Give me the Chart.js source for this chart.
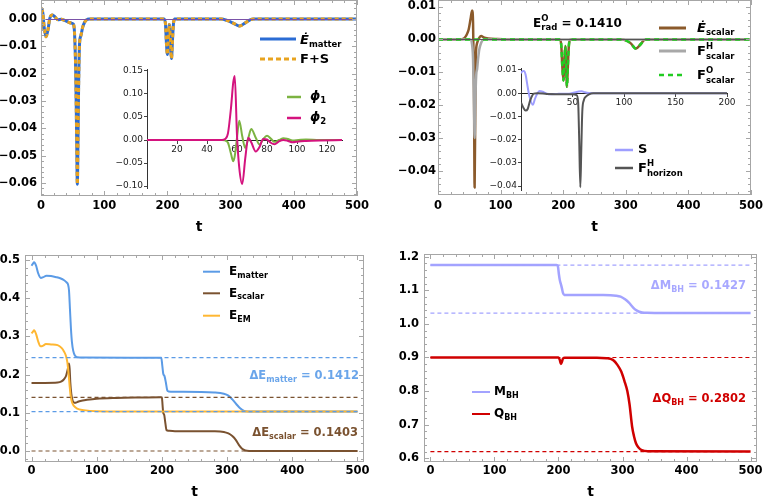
<!DOCTYPE html>
<html>
<head>
<meta charset="utf-8">
<script src="https://cdn.jsdelivr.net/npm/chart.js"></script>
<style>
  body { margin: 0; background: #fff; }
  #wrap { position: relative; width: 768px; height: 503px; overflow: hidden; background: #fff; }
  #wrap canvas { position: absolute; }
</style>
</head>
<body>
<div id="wrap">
  <canvas id="c1" width="380" height="240" style="left:0;top:0"></canvas>
  <canvas id="c2" width="384" height="240" style="left:384px;top:0"></canvas>
  <canvas id="c3" width="380" height="253" style="left:0;top:250px"></canvas>
  <canvas id="c4" width="384" height="253" style="left:384px;top:250px"></canvas>
  <canvas id="i1" width="250" height="140" style="left:100px;top:60px"></canvas>
  <canvas id="i2" width="280" height="145" style="left:460px;top:55px"></canvas>
</div>
<script>
// Panel 1: matter energy flux (F+S coincides with it)
const tFluxMatter = [0, 0.5, 1.5, 3, 5, 8, 11, 14, 18, 22, 27, 32, 38, 44, 48, 51, 53, 55, 56.5, 57.5, 58.5, 59.5, 61, 63, 66, 69, 72, 76, 195, 197, 198.5, 200, 201.5, 203, 204.5, 206.5, 208, 209.5, 211, 285, 295, 305, 314, 322, 330, 336, 500];
const eMatterDot = [-0.004, 0.001, 0.0038, 0.002, -0.003, -0.0065, -0.004, 0.0003, 0.0015, 0.0008, -0.0003, -0.0001, -0.0006, -0.0012, -0.0015, -0.0018, -0.005, -0.02, -0.045, -0.0605, -0.045, -0.025, -0.009, -0.0062, -0.003, -0.0012, -0.0003, 0, 0, -0.002, -0.009, -0.013, -0.008, -0.002, -0.006, -0.0145, -0.008, -0.002, 0, 0, -0.0006, -0.0016, -0.0026, -0.0016, -0.0004, 0, 0];
const fluxFS = eMatterDot;

// Inset of panel 1: the two scalar fields
const tPhi = [0, 50, 52, 54, 56, 57.5, 58.5, 60, 61.5, 63.5, 65.5, 67.5, 69.5, 72.5, 75, 77.5, 80, 82.5, 85, 88, 91, 94, 97, 101, 106, 115, 130];
const phi1 = [0, 0, -0.001, -0.006, -0.03, -0.046, -0.035, 0.005, 0.042, 0.008, -0.017, 0.004, 0.024, 0.005, -0.01, 0.002, 0.009, 0.003, -0.004, 0, 0.004, 0.002, -0.001, 0, 0.001, 0, 0];
const phi2 = [0, 0, 0.002, 0.015, 0.07, 0.125, 0.139, 0.01, -0.06, -0.0957, -0.04, 0.005, -0.005, -0.025, -0.015, 0.002, 0.001, -0.006, -0.009, -0.003, 0, -0.002, -0.005, -0.003, -0.002, -0.001, 0];

// Panel 2: scalar energy flux
const tFluxScalar = [0, 35, 42, 46, 49, 52, 54.5, 56, 57.5, 58.5, 59.5, 60.5, 62, 64, 66, 69, 73, 80, 95, 110, 195, 197, 198.5, 200.5, 202, 203.5, 204.5, 206, 207.5, 209, 211, 295, 300, 308, 316, 324, 331, 500];
const eScalarDot = [0, 0, 0.0004, 0.0015, 0.003, 0.0062, 0.0088, 0.005, -0.015, -0.045, -0.022, -0.005, -0.0015, -0.0003, 0.0005, 0.001, 0.0006, 0.0003, 0.0001, 0, 0, -0.002, -0.008, -0.0125, -0.006, -0.002, -0.006, -0.0144, -0.008, -0.002, 0, 0, -0.0003, -0.0012, -0.0028, -0.0014, 0, 0];
const tFluxHScalar = [0, 52, 54, 56, 57.5, 58.5, 59.5, 61, 62.5, 64, 66, 69, 73, 500];
const fHScalar = [0, 0, -0.001, -0.006, -0.02, -0.03, -0.02, -0.011, -0.009, -0.006, -0.003, -0.001, 0, 0];
const tFluxOScalar = [0, 195, 197, 198.5, 200.5, 202, 203.5, 204.5, 206, 207.5, 209, 211, 295, 300, 308, 316, 324, 331, 500];
const fOScalar = [0, 0, -0.002, -0.008, -0.0125, -0.006, -0.002, -0.006, -0.0144, -0.008, -0.002, 0, 0, -0.0003, -0.0012, -0.0028, -0.0014, 0, 0];

// Inset of panel 2
const tSource = [0, 1, 2.7, 4.5, 6, 8, 11.5, 13.5, 15.5, 18, 21, 25, 30, 35, 40, 45, 50, 53, 56, 59, 62, 66, 75, 200];
const sSource = [0.0086, 0.0093, 0.0096, 0.008, 0.004, -0.001, -0.005, -0.0025, -0.0005, 0.001, 0.0006, -0.0002, -0.0004, -0.0003, -0.0002, -0.0002, 0.0001, 0.0004, 0.0007, 0.0008, 0.0004, 0.0001, 0, 0];
const tHorizon = [0, 2, 4.4, 6.5, 9, 12.4, 16, 25, 40, 50, 54, 55.5, 56.5, 57.6, 58.5, 59.5, 61, 63, 66, 70, 200];
const fHorizon = [-0.004, -0.006, -0.0075, -0.0068, -0.003, -0.0002, 0, -0.0003, -0.0005, -0.0004, -0.0008, -0.004, -0.02, -0.0405, -0.025, -0.008, -0.003, -0.0015, -0.0005, 0, 0];

// Panel 3: energies
const tEnergyMatter = [0, 2, 4, 7, 10, 14.3, 18, 23, 30, 38, 44, 50, 54, 56, 57.5, 59, 60.5, 62, 64, 66.5, 70, 80, 150, 199, 200.5, 202, 204, 206, 208, 210, 220, 280, 295, 302, 308, 314, 320, 326, 332, 345, 500];
const eMatter = [0.485, 0.49, 0.494, 0.485, 0.466, 0.453, 0.455, 0.459, 0.458, 0.455, 0.452, 0.447, 0.441, 0.436, 0.42, 0.37, 0.32, 0.285, 0.262, 0.25, 0.2455, 0.2447, 0.2443, 0.2442, 0.225, 0.203, 0.196, 0.18, 0.16, 0.156, 0.155, 0.153, 0.15, 0.145, 0.135, 0.123, 0.112, 0.105, 0.1035, 0.1033, 0.1033];
const tEnergyScalar = [0, 20, 40, 46, 50, 53, 55, 56.5, 57.5, 58.5, 59.5, 61, 63, 65, 67, 70, 75, 85, 100, 130, 170, 198, 200, 201, 202, 203.5, 205, 207, 210, 220, 280, 295, 302, 308, 313, 318, 323, 328, 335, 345, 500];
const eScalar = [0.178, 0.178, 0.179, 0.182, 0.188, 0.197, 0.21, 0.222, 0.229, 0.215, 0.18, 0.15, 0.132, 0.127, 0.126, 0.128, 0.131, 0.134, 0.137, 0.139, 0.14, 0.1405, 0.14, 0.12, 0.1, 0.095, 0.077, 0.055, 0.053, 0.052, 0.0515, 0.05, 0.046, 0.039, 0.03, 0.016, 0.006, 0.0015, 0.0002, 0, 0];
const tEnergyEM = [0, 2, 4, 7, 10, 14, 18, 22, 30, 40, 46, 50, 53, 55, 57, 58.5, 60, 62, 65, 70, 80, 100, 130, 200, 500];
const eEM = [0.308, 0.312, 0.316, 0.306, 0.288, 0.274, 0.276, 0.28, 0.279, 0.277, 0.27, 0.26, 0.248, 0.232, 0.2, 0.17, 0.145, 0.128, 0.118, 0.111, 0.107, 0.104, 0.1035, 0.1033, 0.1033];
const tRef = [0, 500];
const refMatter = [0.2445, 0.1033];
const refScalar = [0.1403, 0];

// Panel 4: black hole mass and charge
const tMass = [0, 197, 199, 200.5, 202, 203.8, 205.5, 207, 209, 215, 270, 290, 297, 304, 310, 316, 321, 326, 331, 338, 350, 500];
const mBH = [1.175, 1.175, 1.172, 1.15, 1.131, 1.118, 1.105, 1.092, 1.086, 1.086, 1.086, 1.084, 1.081, 1.073, 1.063, 1.05, 1.041, 1.036, 1.034, 1.033, 1.0325, 1.0323];
const tCharge = [0, 200, 202, 203.8, 205.5, 207, 210, 260, 275, 285, 292, 298, 303, 307.5, 311, 315, 318, 321, 325, 330, 340, 500];
const qBH = [0.9, 0.9, 0.893, 0.881, 0.888, 0.897, 0.899, 0.899, 0.898, 0.893, 0.878, 0.858, 0.83, 0.8, 0.76, 0.694, 0.665, 0.645, 0.632, 0.624, 0.621, 0.62];
const refMass = [1.175, 1.0323];
const refCharge = [0.9, 0.62];

const FONT = '"DejaVu Sans", sans-serif';
Chart.defaults.font.family = FONT;

const fmt = (v, d) => (v < 0 ? '\u2212' : '') + Math.abs(v).toFixed(d);

// fixed axis sizes so the plot areas land where the reference has them
function fitTo(w, h) {
    return s => {
        if (w !== null) s.width = w;
        if (h !== null) s.height = h;
        s.paddingLeft = 0; s.paddingRight = 0; s.paddingTop = 0; s.paddingBottom = 0;
    };
}

function series(label, ts, vs, color, width, dash) {
    return {
        label,
        data: ts.map((t, i) => ({x: t, y: vs[i]})),
        borderColor: color,
        borderWidth: width,
        borderDash: dash || [],
        borderJoinStyle: 'round',
        pointRadius: 0,
        fill: false,
        cubicInterpolationMode: 'monotone'
    };
}

function refLine(value, color) {
    return series('', tRef, tRef.map(() => value), color, 1.2, [4, 3]);
}

// frame with inward ticks on all four sides (Mathematica style)
function makeFrame(xStep, yStep) {
    return {
        id: 'frame',
        afterDraw(chart) {
            const {ctx, chartArea: a, scales: {x, y}} = chart;
            ctx.save();
            ctx.strokeStyle = '#a6a6a6';
            ctx.lineWidth = 1;
            ctx.strokeRect(a.left + 0.5, a.top + 0.5, a.right - a.left - 1, a.bottom - a.top - 1);
            const marks = (scale, step, horiz) => {
                const minor = step / 5;
                for (let i = Math.ceil(scale.min / minor - 1e-9); i * minor <= scale.max + 1e-12; i++) {
                    const p = Math.round(scale.getPixelForValue(i * minor)) + 0.5;
                    const len = i % 5 === 0 ? 5 : 3;
                    ctx.beginPath();
                    if (horiz) {
                        ctx.moveTo(p, a.bottom); ctx.lineTo(p, a.bottom - len);
                        ctx.moveTo(p, a.top); ctx.lineTo(p, a.top + len);
                    } else {
                        ctx.moveTo(a.left, p); ctx.lineTo(a.left + len, p);
                        ctx.moveTo(a.right, p); ctx.lineTo(a.right - len, p);
                    }
                    ctx.stroke();
                }
            };
            marks(x, xStep, true);
            marks(y, yStep, false);
            ctx.restore();
        }
    };
}

// text with sub/superscripts: parts = [text, size, dy, flags] ; flags 'i' italic, 'k' keep x (stacked)
function drawRich(ctx, it) {
    const font = p => (p[3] && p[3].includes('i') ? 'italic ' : '') + 'bold ' + p[1] + 'px ' + FONT;
    let held = 0;
    const adv = it.parts.map(p => {
        ctx.font = font(p);
        const w = ctx.measureText(p[0]).width;
        if (p[3] && p[3].includes('k')) { held = w; return 0; }
        const a = Math.max(w, held);
        held = 0;
        return a;
    });
    const total = adv.reduce((s, a) => s + a, 0);
    let x = it.align === 'right' ? it.x - total : it.x;
    ctx.fillStyle = it.color || '#000';
    ctx.textBaseline = 'middle';
    ctx.textAlign = 'left';
    it.parts.forEach((p, i) => {
        ctx.font = font(p);
        ctx.fillText(p[0], x, it.y + (p[2] || 0));
        x += adv[i];
    });
}

// legends and annotations, given in page coordinates
function makeNotes(ox, oy, items) {
    return {
        id: 'notes',
        afterDraw(chart) {
            const ctx = chart.ctx;
            ctx.save();
            ctx.translate(-ox, -oy);
            items.forEach(it => {
                if (it.x1 !== undefined) {
                    ctx.beginPath();
                    ctx.strokeStyle = it.color;
                    ctx.lineWidth = it.w;
                    ctx.setLineDash(it.dash || []);
                    ctx.moveTo(it.x1, it.y);
                    ctx.lineTo(it.x2, it.y);
                    ctx.stroke();
                    ctx.setLineDash([]);
                } else {
                    drawRich(ctx, it);
                }
            });
            ctx.restore();
        }
    };
}

function frameScales(c) {
    return {
        x: {
            type: 'linear', min: c.xMin, max: c.xMax,
            afterFit: fitTo(null, c.xH),
            grid: {display: false, drawTicks: false},
            border: {display: false},
            ticks: {stepSize: 100, includeBounds: false, autoSkip: false, maxRotation: 0, padding: c.xPad,
                color: '#000', font: {family: FONT, size: 11.5, weight: 'bold'}},
            title: {display: true, text: 't', color: '#000', font: {family: FONT, size: 14, weight: 'bold'},
                padding: {top: 0, bottom: c.titlePad}}
        },
        y: {
            type: 'linear', min: c.yMin, max: c.yMax,
            afterFit: fitTo(c.yW, null),
            grid: c.zero
                ? {z: 1, drawTicks: false, lineWidth: 1,
                   color: ctx => (ctx.tick && ctx.tick.value === 0 ? c.zero : 'rgba(0,0,0,0)')}
                : {display: false, drawTicks: false},
            border: {display: false},
            ticks: {stepSize: c.yStep, includeBounds: false, padding: c.yPad, color: '#000',
                font: {family: FONT, size: 11.5, weight: 'bold'}, callback: v => fmt(v, c.yDec)}
        }
    };
}

function insetScales(c) {
    return {
        x: {
            type: 'linear', min: 0, max: c.xMax, position: {y: 0},
            afterFit: fitTo(null, 0),
            grid: {drawOnChartArea: false, drawTicks: true, tickLength: 3, color: '#444'},
            border: {display: true, color: '#222', width: 1},
            ticks: {stepSize: c.xStep, includeBounds: false, autoSkip: false, maxRotation: 0, padding: 1,
                color: '#222', font: {family: FONT, size: 9}, callback: v => (v === 0 ? '' : String(v))}
        },
        y: {
            type: 'linear', min: c.yMin, max: c.yMax, position: 'left',
            afterFit: fitTo(c.yW, null),
            grid: {drawOnChartArea: false, drawTicks: true, tickLength: 3, color: '#444'},
            border: {display: true, color: '#333', width: 1},
            ticks: {stepSize: c.yStep, includeBounds: false, padding: 1, color: '#222',
                font: {family: FONT, size: 9}, callback: v => fmt(v, 2)}
        }
    };
}

function options(padding, scales) {
    return {
        responsive: false, animation: false, devicePixelRatio: 1,
        layout: {padding},
        plugins: {legend: {display: false}, tooltip: {enabled: false}},
        scales
    };
}

const blue = '#2b6cd4', orange = '#e8a31f', green1 = '#7cb342', magenta = '#d4137e';
const brown = '#8b5a2b', gray = '#a8a8a8', green2 = '#22cc22', lilac = '#9e9eff', dark = '#555555';
const lightBlue = '#5b9be6', brown2 = '#7a5230', yellow = '#ffb732', purple = '#a3a3ff', red = '#d00000';

// Panel 1
new Chart(document.getElementById('c1'), {
    type: 'line',
    data: {datasets: [
        series('F+S', tFluxMatter, fluxFS, orange, 3, [4, 3]),
        series('E matter', tFluxMatter, eMatterDot, blue, 3)
    ]},
    options: options({left: 0, right: 23, top: 0, bottom: 0}, frameScales({
        xMin: 0, xMax: 500, yMin: -0.0648, yMax: 0.00696, yStep: 0.01, yDec: 2,
        yW: 41, xH: 44, yPad: 4, xPad: 3, titlePad: 4, zero: '#7a52a8'
    })),
    plugins: [makeFrame(100, 0.01), makeNotes(0, 0, [
        {x1: 260, x2: 296, y: 39, color: blue, w: 3},
        {x: 300, y: 41, parts: [['\u0116', 13, 0, 'i'], ['matter', 8.5, 4]]},
        {x1: 260, x2: 296, y: 59, color: orange, w: 3, dash: [5, 3]},
        {x: 300, y: 59.5, parts: [['F+S', 13, 0]]}
    ])]
});

// Panel 2
new Chart(document.getElementById('c2'), {
    type: 'line',
    data: {datasets: [
        series('F O scalar', tFluxOScalar, fOScalar, green2, 2.5, [5, 4]),
        series('F H scalar', tFluxHScalar, fHScalar, gray, 2.5),
        series('E scalar', tFluxScalar, eScalarDot, brown, 2.5)
    ]},
    options: options({left: 0, right: 17, top: 0, bottom: 0}, frameScales({
        xMin: 0, xMax: 500, yMin: -0.0473, yMax: 0.01198, yStep: 0.01, yDec: 2,
        yW: 54, xH: 45, yPad: 2, xPad: 4, titlePad: 4, zero: '#555555'
    })),
    plugins: [makeFrame(100, 0.01), makeNotes(384, 0, [
        {x1: 659, x2: 686, y: 28, color: brown, w: 3},
        {x: 697, y: 29, parts: [['\u0116', 13, 0, 'i'], ['scalar', 8.5, 4]]},
        {x1: 659, x2: 686, y: 51, color: gray, w: 3},
        {x: 697, y: 52, parts: [['F', 13, 0], ['H', 8.5, -5, 'k'], ['scalar', 8.5, 4.5]]},
        {x1: 659, x2: 686, y: 75, color: green2, w: 2.5, dash: [5, 4]},
        {x: 697, y: 76, parts: [['F', 13, 0], ['O', 8.5, -5, 'k'], ['scalar', 8.5, 4.5]]},
        {x: 533, y: 23.5, parts: [['E', 12, 0], ['O', 8.5, -4.5, 'k'], ['rad', 8.5, 4.5], [' = 0.1410', 12, 0]]}
    ])]
});

// Panel 3
new Chart(document.getElementById('c3'), {
    type: 'line',
    data: {datasets: [
        refLine(refMatter[0], lightBlue),
        refLine(refMatter[1], lightBlue),
        refLine(refScalar[0], brown2),
        refLine(refScalar[1], brown2),
        series('E EM', tEnergyEM, eEM, yellow, 2),
        series('E scalar', tEnergyScalar, eScalar, brown2, 2),
        series('E matter', tEnergyMatter, eMatter, lightBlue, 2)
    ]},
    options: options({left: 0, right: 16, top: 5, bottom: 0}, frameScales({
        xMin: -10, xMax: 510, yMin: -0.0288, yMax: 0.513, yStep: 0.1, yDec: 1,
        yW: 25, xH: 41, yPad: 5, xPad: 2, titlePad: 2
    })),
    plugins: [makeFrame(100, 0.1), makeNotes(0, 250, [
        {x1: 203, x2: 220, y: 271.7, color: lightBlue, w: 2},
        {x: 229, y: 272, parts: [['E', 12, 0], ['matter', 8, 3.5]]},
        {x1: 203, x2: 220, y: 293.3, color: brown2, w: 2},
        {x: 229, y: 293.5, parts: [['E', 12, 0], ['scalar', 8, 3.5]]},
        {x1: 203, x2: 220, y: 315.7, color: yellow, w: 2},
        {x: 229, y: 316, parts: [['E', 12, 0], ['EM', 8, 3.5]]},
        {x: 359, y: 376, align: 'right', color: '#6aa5ea',
            parts: [['\u0394E', 11.5, 0], ['matter', 8, 3.5], [' = 0.1412', 11.5, 0]]},
        {x: 358, y: 433, align: 'right', color: brown2,
            parts: [['\u0394E', 11.5, 0], ['scalar', 8, 3.5], [' = 0.1403', 11.5, 0]]}
    ])]
});

// Panel 4
new Chart(document.getElementById('c4'), {
    type: 'line',
    data: {datasets: [
        refLine(refMass[0], purple),
        refLine(refMass[1], purple),
        refLine(refCharge[0], red),
        refLine(refCharge[1], red),
        series('Q BH', tCharge, qBH, red, 2.5),
        series('M BH', tMass, mBH, purple, 2.5)
    ]},
    options: options({left: 0, right: 11, top: 4, bottom: 0}, frameScales({
        xMin: -10, xMax: 510, yMin: 0.589, yMax: 1.208, yStep: 0.1, yDec: 1,
        yW: 40, xH: 41, yPad: 5, xPad: 2, titlePad: 2
    })),
    plugins: [makeFrame(100, 0.1), makeNotes(384, 250, [
        {x1: 472, x2: 490, y: 392, color: purple, w: 2},
        {x: 494, y: 392, parts: [['M', 12, 0], ['BH', 8, 3.5]]},
        {x1: 472, x2: 490, y: 414, color: red, w: 2},
        {x: 494, y: 414, parts: [['Q', 12, 0], ['BH', 8, 3.5]]},
        {x: 746, y: 286, align: 'right', color: '#a8a8ff',
            parts: [['\u0394M', 11.5, 0], ['BH', 8, 3.5], [' = 0.1427', 11.5, 0]]},
        {x: 746, y: 399, align: 'right', color: red,
            parts: [['\u0394Q', 11.5, 0], ['BH', 8, 3.5], [' = 0.2802', 11.5, 0]]}
    ])]
});

// Inset of panel 1
new Chart(document.getElementById('i1'), {
    type: 'line',
    data: {datasets: [
        series('phi2', tPhi, phi2, magenta, 2),
        series('phi1', tPhi, phi1, green1, 2)
    ]},
    options: options({left: 0, right: 8, top: 9, bottom: 12}, insetScales({
        xMax: 130, xStep: 20, yMin: -0.1043, yMax: 0.1543, yStep: 0.05, yW: 47
    })),
    plugins: [makeNotes(100, 60, [
        {x1: 287, x2: 301, y: 97, color: green1, w: 2.5},
        {x: 310, y: 97, parts: [['\u03d5', 13, 0, 'i'], ['1', 8.5, 4]]},
        {x1: 287, x2: 301, y: 118, color: magenta, w: 2.5},
        {x: 310, y: 118, parts: [['\u03d5', 13, 0, 'i'], ['2', 8.5, 4]]}
    ])]
});

// Inset of panel 2
new Chart(document.getElementById('i2'), {
    type: 'line',
    data: {datasets: [
        series('F H horizon', tHorizon, fHorizon, dark, 2),
        series('S', tSource, sSource, lilac, 2)
    ]},
    options: options({left: 0, right: 13, top: 13, bottom: 10}, insetScales({
        xMax: 200, xStep: 50, yMin: -0.04172, yMax: 0.01086, yStep: 0.01, yW: 61
    })),
    plugins: [makeNotes(460, 55, [
        {x1: 615, x2: 633, y: 150, color: lilac, w: 2.5},
        {x: 638, y: 150, parts: [['S', 13, 0]]},
        {x1: 615, x2: 633, y: 168, color: dark, w: 2.5},
        {x: 638, y: 169, parts: [['F', 13, 0], ['H', 8.5, -5, 'k'], ['horizon', 8.5, 4.5]]}
    ])]
});
</script>
</body>
</html>
